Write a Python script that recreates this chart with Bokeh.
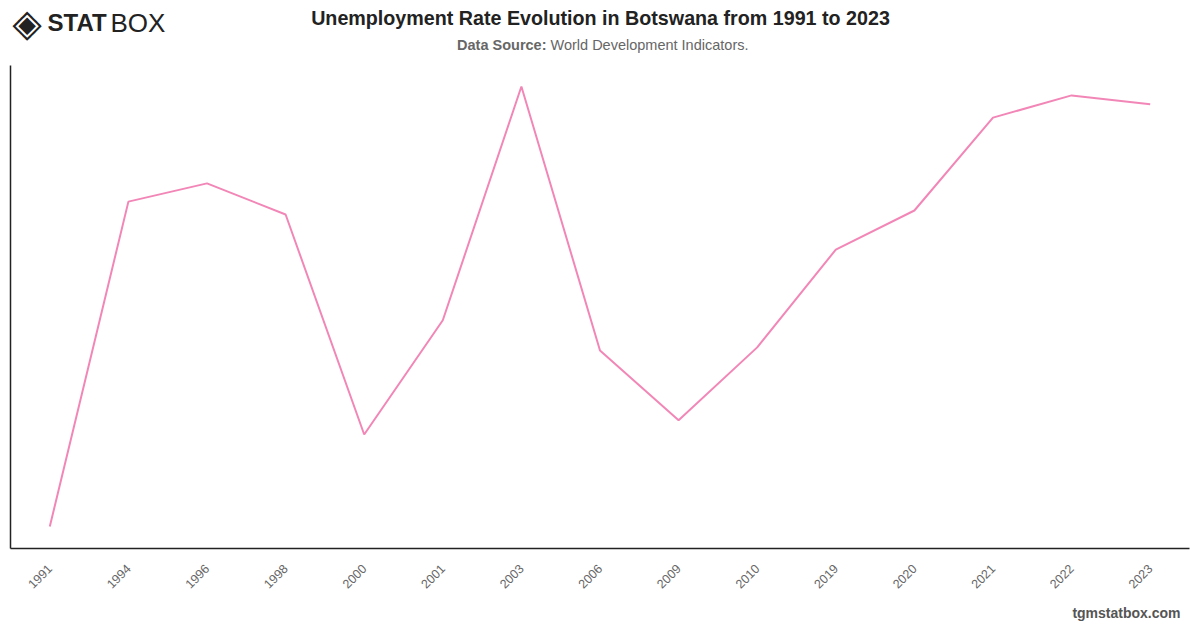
import math
from bokeh.plotting import figure
from bokeh.models import Range1d, Label, Title, FixedTicker
from bokeh.embed import file_html
from bokeh.resources import INLINE

years = ["1991", "1994", "1996", "1998", "2000", "2001", "2003", "2006",
         "2009", "2010", "2019", "2020", "2021", "2022", "2023"]
rates = [13.90, 21.21, 21.62, 20.92, 15.97, 18.54, 23.80, 17.86,
         16.29, 17.93, 20.13, 21.01, 23.10, 23.60, 23.40]

W, H = 1200, 628
LEFT, RIGHT, BOTTOM = 10, 11, 80
FRAME_BOTTOM = H - BOTTOM  # canvas y of the frame bottom

Y_LO, Y_HI, Y_AXIS_TOP = 13.405, 25.735, 24.2725

p = figure(width=W, height=H, x_range=years, y_range=Range1d(Y_LO, Y_HI),
           output_backend="svg", toolbar_location=None, title=None,
           min_border_top=0, min_border_bottom=BOTTOM,
           min_border_left=LEFT, min_border_right=RIGHT)
p.x_range.range_padding = 0
p.outline_line_color = None
p.grid.visible = False

ya = p.yaxis[0]
ya.ticker = FixedTicker(ticks=[])
ya.bounds = (Y_LO, Y_AXIS_TOP)
ya.axis_line_color = "#222222"
ya.axis_line_width = 1.5
ya.major_tick_line_color = None
ya.minor_tick_line_color = None
ya.major_tick_out = 0
ya.minor_tick_out = 0
ya.major_label_standoff = 0

ax = p.xaxis[0]
ax.axis_line_color = "#222222"
ax.axis_line_width = 1.5
ax.major_tick_line_color = None
ax.minor_tick_line_color = None
ax.major_tick_out = 0
ax.major_label_orientation = math.pi / 4
ax.major_label_text_color = "#666666"
ax.major_label_text_font = "Liberation Sans"
ax.major_label_text_font_size = "12.5px"
ax.major_label_standoff = 18

p.line(years, rates, line_color="#f287b7", line_width=2)

def lab(x, y_canvas, text, size, color, style="normal", align="left", font="Liberation Sans"):
    p.add_layout(Label(x=x - LEFT, y=FRAME_BOTTOM - y_canvas, x_units="screen", y_units="screen",
                       text=text, text_font_size=size, text_color=color, text_font_style=style,
                       text_align=align, text_baseline="middle", text_font=font))

lab(600, 17, "Unemployment Rate Evolution in Botswana from 1991 to 2023", "19.7px", "#222222", "bold", "center")
lab(546, 44, "Data Source:", "14.5px", "#666666", "bold", "right")
lab(550, 44, "World Development Indicators.", "14.5px", "#666666", "normal", "left")

# logo
lab(12, 22, "◈", "38px", "#222222", "bold", "left", "DejaVu Sans")
lab(47, 22, "STAT", "24px", "#222222", "bold", "left", "Liberation Sans")
lab(110, 22, "BOX", "26px", "#222222", "normal", "left", "Liberation Sans")

foot = Title(text="tgmstatbox.com", align="right", text_font_size="14px",
             text_font_style="bold", text_color="#555555", text_font="Liberation Sans",
             offset=9, standoff=15)
p.add_layout(foot, "below")

open("out.html", "w").write(file_html(p, INLINE))
